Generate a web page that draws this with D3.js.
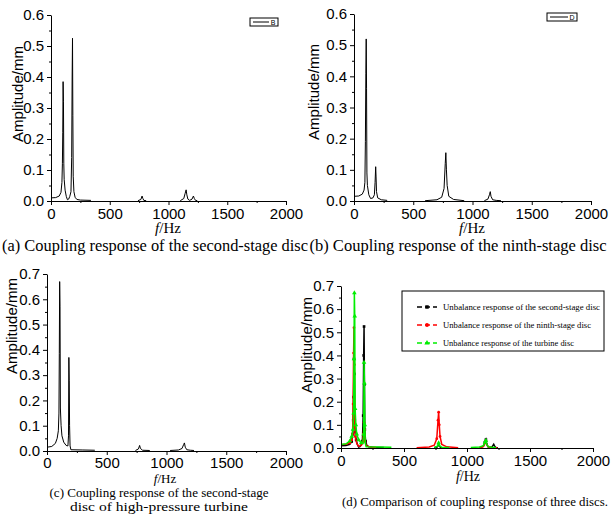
<!DOCTYPE html>
<html>
<head>
<meta charset="utf-8">
<script src="https://cdn.jsdelivr.net/npm/d3@7"></script>
<style>
  body { margin: 0; background: #fff; }
  svg { display: block; }
</style>
</head>
<body>
<svg id="chart" width="611" height="514"></svg>
<script>
// unbalance response curves, [frequency Hz, amplitude mm]; null = gap in the trace
const secondStage = [
  [0, 0.010], [40, 0.011], [70, 0.016], [85, 0.028], [93, 0.06], [97, 0.12], [100, 0.22],
  [103, 0.385], [106, 0.32], [109, 0.12], [112, 0.07], [120, 0.035], [130, 0.015], [140, 0.004],
  [150, 0.006], [160, 0.015], [170, 0.03], [176, 0.14], [180, 0.40], [183, 0.525], [186, 0.275],
  [189, 0.08], [195, 0.03], [205, 0.012], [220, 0.005], [250, 0.003], [340, 0.002],
  null,
  [740, 0.001], [765, 0.005], [775, 0.016], [782, 0.008], [790, 0.002], [810, 0.001],
  null,
  [1100, 0.001], [1130, 0.008], [1142, 0.025], [1150, 0.036], [1156, 0.02], [1165, 0.006],
  [1180, 0.002], [1200, 0.006], [1212, 0.016], [1220, 0.008], [1230, 0.002], [1245, 0.001]
]
const ninthStage = [
  [0, 0.015], [40, 0.016], [70, 0.022], [85, 0.035], [92, 0.06], [96, 0.19], [100, 0.41],
  [103, 0.52], [106, 0.36], [109, 0.09], [113, 0.05], [125, 0.02], [140, 0.008], [160, 0.01],
  [172, 0.02], [178, 0.06], [183, 0.11], [186, 0.08], [190, 0.03], [200, 0.01], [230, 0.004],
  [280, 0.002],
  null,
  [600, 0.001], [700, 0.004], [740, 0.012], [760, 0.04], [770, 0.12], [775, 0.155], [780, 0.10],
  [786, 0.05], [800, 0.015], [840, 0.005], [930, 0.001],
  null,
  [1100, 0.001], [1130, 0.006], [1143, 0.02], [1150, 0.03], [1156, 0.015], [1170, 0.004],
  [1200, 0.002], [1240, 0.001]
]
const turbine = [
  [0, 0.015], [40, 0.018], [70, 0.03], [85, 0.05], [95, 0.08], [100, 0.15], [103, 0.385],
  [106, 0.67], [109, 0.57], [112, 0.17], [118, 0.1], [125, 0.06], [140, 0.035], [160, 0.022],
  [175, 0.02], [180, 0.06], [183, 0.37], [186, 0.28], [189, 0.1], [193, 0.02], [200, 0.005],
  [300, 0.004], [400, 0.003],
  null,
  [740, 0.002], [765, 0.008], [775, 0.022], [782, 0.01], [800, 0.003], [860, 0.002],
  null,
  [1030, 0.002], [1100, 0.004], [1130, 0.01], [1143, 0.025], [1150, 0.032], [1157, 0.015],
  [1170, 0.005], [1200, 0.003], [1230, 0.002]
]

const xTicks = [0, 500, 1000, 1500, 2000]
const seriesNames = [
  'Unbalance response of the second-stage disc',
  'Unbalance response of the ninth-stage disc',
  'Unbalance response of the turbine disc'
]
const captions = {
  a: ['(a) Coupling response of the second-stage disc'],
  b: ['(b) Coupling response of the ninth-stage disc'],
  c: ['(c) Coupling response of the second-stage', 'disc of high-pressure turbine'],
  d: ['(d) Comparison of coupling response of three discs.']
}

const sans = 'Liberation Sans, Arial, sans-serif'
const serif = 'Liberation Serif, Times New Roman, serif'

const panels = [
  { id: 'a', left: 51, right: 286, top: 15, bottom: 201, yMax: 0.6, pad: 3,
    series: [{ data: secondStage, color: '#000' }], tag: 'B',
    tagBox: { x: 250, y: 18, w: 28, h: 8 },
    yLabel: { x: 18, y: 94 }, xLabel: { x: 168, y: 233, size: 15 },
    cap: { x: 155, y: 251, size: 16, len: [306] } },
  { id: 'b', left: 354, right: 591, top: 14, bottom: 201, yMax: 0.6, pad: 3,
    series: [{ data: ninthStage, color: '#000' }], tag: 'D',
    tagBox: { x: 547, y: 13, w: 30, h: 8 },
    yLabel: { x: 314, y: 92 }, xLabel: { x: 472, y: 233, size: 15 },
    cap: { x: 458, y: 251, size: 16, len: [297] } },
  { id: 'c', left: 47, right: 286, top: 274, bottom: 451, yMax: 0.7, pad: 2,
    series: [{ data: turbine, color: '#000' }],
    yLabel: { x: 12, y: 326 }, xLabel: { x: 165, y: 483, size: 13 },
    cap: { x: 159, y: 497, size: 12, len: [219, 178], dy: 13.5 } },
  { id: 'd', left: 341, right: 593, top: 286, bottom: 448, yMax: 0.7, pad: 3,
    series: [
      { data: secondStage, color: '#000', marker: 'square' },
      { data: ninthStage, color: '#ff0000', marker: 'circle' },
      { data: turbine, color: '#00ee00', marker: 'triangle' }
    ],
    yLabel: { x: 307, y: 345 }, xLabel: { x: 468, y: 481, size: 14 },
    cap: { x: 475, y: 506, size: 13, len: [266] } }
]

const svg = d3.select('#chart')

const symbolOf = {
  square: d3.symbol().type(d3.symbolSquare).size(7),
  circle: d3.symbol().type(d3.symbolCircle).size(6),
  triangle: d3.symbol().type(d3.symbolTriangle).size(9)
}

panels.forEach(p => {
  const g = svg.append('g').attr('class', 'panel-' + p.id)
  const x = d3.scaleLinear().domain([0, 2000]).range([p.left, p.right])
  const y = d3.scaleLinear().domain([0, p.yMax]).range([p.bottom, p.top])
  const yTicks = d3.range(0, p.yMax + 0.001, 0.1)

  // curves
  const line = d3.line()
    .defined(d => d !== null)
    .x(d => x(d[0]))
    .y(d => y(d[1]))
  p.series.forEach(s => {
    g.append('path')
      .datum(s.data)
      .attr('fill', 'none')
      .attr('stroke', s.color)
      .attr('stroke-width', p.id === 'd' ? 1.5 : 1)
      .attr('d', line)
    if (s.marker) {
      g.append('g').selectAll('path')
        .data(s.data.filter(d => d !== null && d[1] > 0.02))
        .join('path')
        .attr('transform', d => `translate(${x(d[0])},${y(d[1])})`)
        .attr('d', symbolOf[s.marker])
        .attr('fill', s.color)
    }
  })

  // axes
  const xAxis = d3.axisBottom(x).tickValues(xTicks).tickSize(4).tickSizeOuter(0)
    .tickPadding(p.pad).tickFormat(d3.format('d'))
  const xMinor = d3.axisBottom(x).tickValues([250, 750, 1250, 1750]).tickSize(2).tickFormat('')
  const yAxis = d3.axisLeft(y).tickValues(yTicks).tickSize(4).tickSizeOuter(0)
    .tickFormat(d3.format('.1f'))
  const yMinor = d3.axisLeft(y).tickValues(yTicks.slice(0, -1).map(v => v + 0.05))
    .tickSize(2).tickFormat('')

  const gx = g.append('g').attr('transform', `translate(0,${p.bottom})`).call(xAxis)
  g.append('g').attr('transform', `translate(0,${p.bottom})`).call(xMinor)
    .select('.domain').remove()
  const gy = g.append('g').attr('transform', `translate(${p.left},0)`).call(yAxis)
  g.append('g').attr('transform', `translate(${p.left},0)`).call(yMinor)
    .select('.domain').remove()
  gx.selectAll('text').attr('font-family', sans).attr('font-size', 15).attr('fill', '#000')
  gy.selectAll('text').attr('font-family', sans).attr('font-size', 15).attr('fill', '#000')
  g.selectAll('.domain, .tick line').attr('stroke', '#000')

  // axis titles
  g.append('text')
    .attr('transform', `translate(${p.yLabel.x},${p.yLabel.y}) rotate(-90)`)
    .attr('text-anchor', 'middle')
    .attr('dy', '0.35em')
    .attr('font-family', sans)
    .attr('font-size', 15)
    .text('Amplitude/mm')
  const xl = g.append('text')
    .attr('x', p.xLabel.x).attr('y', p.xLabel.y)
    .attr('text-anchor', 'middle')
    .attr('font-family', serif)
    .attr('font-size', p.xLabel.size)
  xl.append('tspan').attr('font-style', 'italic').text('f')
  xl.append('tspan').text('/Hz')

  // caption
  p.cap.len.forEach((len, i) => {
    g.append('text')
      .attr('x', p.cap.x).attr('y', p.cap.y + i * (p.cap.dy || 0))
      .attr('text-anchor', 'middle')
      .attr('font-family', serif)
      .attr('font-size', p.cap.size)
      .attr('textLength', len)
      .attr('lengthAdjust', 'spacingAndGlyphs')
      .text(captions[p.id][i])
  })

  // single-series legend tag
  if (p.tag) {
    const b = p.tagBox
    g.append('rect').attr('x', b.x).attr('y', b.y).attr('width', b.w).attr('height', b.h)
      .attr('fill', '#fff').attr('stroke', '#000').attr('stroke-width', 1)
    g.append('line').attr('x1', b.x + 3).attr('x2', b.x + b.w - 9)
      .attr('y1', b.y + b.h / 2).attr('y2', b.y + b.h / 2).attr('stroke', '#000')
    g.append('text').attr('x', b.x + b.w - 5).attr('y', b.y + b.h - 1)
      .attr('text-anchor', 'middle').attr('font-family', sans).attr('font-size', 7)
      .text(p.tag)
  }
})

// legend of panel (d)
const pd = panels[3]
const leg = svg.append('g').attr('class', 'legend-d')
leg.append('rect').attr('x', 402).attr('y', 291).attr('width', 202).attr('height', 60)
  .attr('fill', '#fff').attr('stroke', '#000').attr('stroke-width', 1)
pd.series.forEach((s, i) => {
  const yy = 307 + i * 18
  leg.append('line').attr('x1', 417).attr('x2', 437).attr('y1', yy).attr('y2', yy)
    .attr('stroke', s.color).attr('stroke-width', 1.3).attr('stroke-dasharray', '5,3')
  leg.append('path').attr('transform', `translate(427,${yy})`)
    .attr('d', symbolOf[s.marker].size(12)).attr('fill', s.color)
  leg.append('text').attr('x', 443).attr('y', yy + 3)
    .attr('font-family', serif).attr('font-size', 9)
    .attr('textLength', i === 0 ? 157 : i === 1 ? 148 : 131)
    .attr('lengthAdjust', 'spacingAndGlyphs')
    .text(seriesNames[i])
})
</script>
</body>
</html>
